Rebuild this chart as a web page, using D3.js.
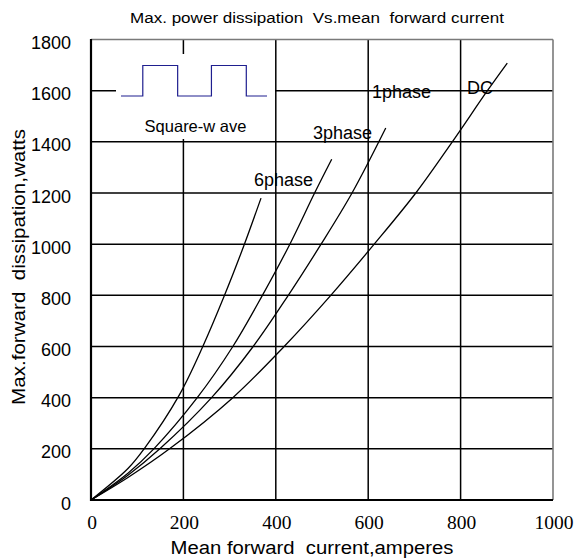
<!DOCTYPE html>
<html>
<head>
<meta charset="utf-8">
<script src="https://cdn.jsdelivr.net/npm/d3@7"></script>
<style>
  html, body { margin: 0; padding: 0; background: #fff; }
  svg { display: block; }
  text { fill: #000; white-space: pre; }
</style>
</head>
<body>
<svg id="chart" width="577" height="558"></svg>
<script>
// ---- data ----
const seriesNames = ["6phase", "3phase", "1phase", "DC"];
const current6 = [0, 80, 115, 191, 242, 289, 330, 368];
const power6   = [0, 123, 200, 410, 600, 800, 990, 1180];
const current3 = [0, 80, 136, 230, 307, 371, 429, 484, 521];
const power3   = [0, 105, 200, 400, 600, 800, 995, 1200, 1332];
const current1 = [0, 80, 149, 261, 351, 427, 498, 565, 638];
const power1   = [0, 97, 200, 400, 600, 800, 1000, 1200, 1454];
const currentDC = [0, 80, 170, 307, 418, 519, 613, 703, 782, 858, 901];
const powerDC   = [0, 88, 200, 400, 600, 800, 1000, 1200, 1400, 1600, 1708];
const xTicks = [0, 200, 400, 600, 800, 1000];
const yTicks = [0, 200, 400, 600, 800, 1000, 1200, 1400, 1600, 1800];
const squareWaveLevels = [0, 0, 1, 1, 0, 0, 1, 1, 0, 0];
const squareWaveSteps  = [0, 1, 1, 2.6, 2.6, 4.15, 4.15, 5.75, 5.75, 6.7];
const titleText = "Max. power dissipation  Vs.mean  forward current";
const xTitle = "Mean forward  current,amperes";
const yTitle = "Max.forward  dissipation,watts";
const legendText = "Square-w ave";

const SANS = "'Liberation Sans', Arial, sans-serif";
const SERIF = "'Liberation Serif', 'Times New Roman', serif";

const series = [
  { name: seriesNames[0], xs: current6, ys: power6, lx: 254, ly: 186 },
  { name: seriesNames[1], xs: current3, ys: power3, lx: 313, ly: 139 },
  { name: seriesNames[2], xs: current1, ys: power1, lx: 372, ly: 98 },
  { name: seriesNames[3], xs: currentDC, ys: powerDC, lx: 467, ly: 94 }
];

const svg = d3.select("#chart");
const x = d3.scaleLinear().domain([0, 1000]).range([91, 553]);
const y = d3.scaleLinear().domain([0, 1800]).range([500, 39.5]);

// gridlines
const grid = svg.append("g");
grid.selectAll("line.v").data(xTicks.slice(1, -1)).enter().append("line")
  .attr("x1", d => x(d)).attr("x2", d => x(d)).attr("y1", y(0)).attr("y2", y(1800))
  .attr("stroke", "#000").attr("stroke-width", 1.5);
grid.selectAll("line.h").data(yTicks.slice(1, -1)).enter().append("line")
  .attr("x1", x(0)).attr("x2", x(1000)).attr("y1", d => y(d)).attr("y2", d => y(d))
  .attr("stroke", "#000").attr("stroke-width", 1.5);

// top/right border (grey)
svg.append("line").attr("x1", x(0)).attr("x2", x(1000)).attr("y1", y(1800)).attr("y2", y(1800))
  .attr("stroke", "#7a7a7a").attr("stroke-width", 1.6);
svg.append("line").attr("x1", x(1000)).attr("x2", x(1000)).attr("y1", y(0)).attr("y2", y(1800))
  .attr("stroke", "#7a7a7a").attr("stroke-width", 1.6);

// legend white box covering grid
svg.append("rect").attr("x", 116).attr("y", 54).attr("width", 159).attr("height", 85).attr("fill", "#fff");

// square wave icon
const sx = d3.scaleLinear().domain([0, 6.7]).range([121, 267]);
const sy = d3.scaleLinear().domain([0, 1]).range([96, 65.5]);
svg.append("path")
  .attr("d", d3.line().x((d, i) => sx(squareWaveSteps[i])).y(d => sy(d))(squareWaveLevels))
  .attr("fill", "none").attr("stroke", "#1f1f8f").attr("stroke-width", 1.2);
svg.append("text").attr("x", 195.5).attr("y", 132).attr("text-anchor", "middle")
  .style("font-family", SANS).attr("font-size", 16.5).text(legendText);

// axes (left & bottom black)
svg.append("line").attr("x1", x(0)).attr("x2", x(0)).attr("y1", y(0) + 1).attr("y2", y(1800) - 0.5)
  .attr("stroke", "#000").attr("stroke-width", 2.2);
svg.append("line").attr("x1", x(0) - 1).attr("x2", x(1000)).attr("y1", y(0)).attr("y2", y(0))
  .attr("stroke", "#000").attr("stroke-width", 2.2);

// curves
const line = d3.line().curve(d3.curveCatmullRom.alpha(0.5));
series.forEach(s => {
  const pts = s.xs.map((v, i) => [x(v), y(s.ys[i])]);
  svg.append("path").attr("d", line(pts)).attr("fill", "none")
    .attr("stroke", "#000").attr("stroke-width", 1.3);
  svg.append("text").attr("x", s.lx).attr("y", s.ly)
    .style("font-family", SANS).attr("font-size", 18).text(s.name);
});

// y tick labels
svg.selectAll("text.yt").data(yTicks).enter().append("text")
  .attr("x", 71).attr("y", d => y(d) + 9.5).attr("text-anchor", "end")
  .style("font-family", SANS).attr("font-size", 18).text(d => d);

// x tick labels (serif)
svg.selectAll("text.xt").data(xTicks).enter().append("text")
  .attr("x", d => x(d) + 1).attr("y", 528.5).attr("text-anchor", "middle")
  .style("font-family", SERIF).attr("font-size", 19.5).text(d => d);

// titles
svg.append("text").attr("x", 317).attr("y", 23).attr("text-anchor", "middle")
  .style("font-family", SANS).attr("font-size", 15.5)
  .attr("textLength", 374).attr("lengthAdjust", "spacingAndGlyphs").text(titleText);
svg.append("text").attr("x", 312).attr("y", 553.5).attr("text-anchor", "middle")
  .style("font-family", SANS).attr("font-size", 18)
  .attr("textLength", 283).attr("lengthAdjust", "spacingAndGlyphs").text(xTitle);
svg.append("text").attr("transform", "translate(25,267) rotate(-90)").attr("text-anchor", "middle")
  .style("font-family", SANS).attr("font-size", 18)
  .attr("textLength", 276).attr("lengthAdjust", "spacingAndGlyphs").text(yTitle);
</script>
</body>
</html>
